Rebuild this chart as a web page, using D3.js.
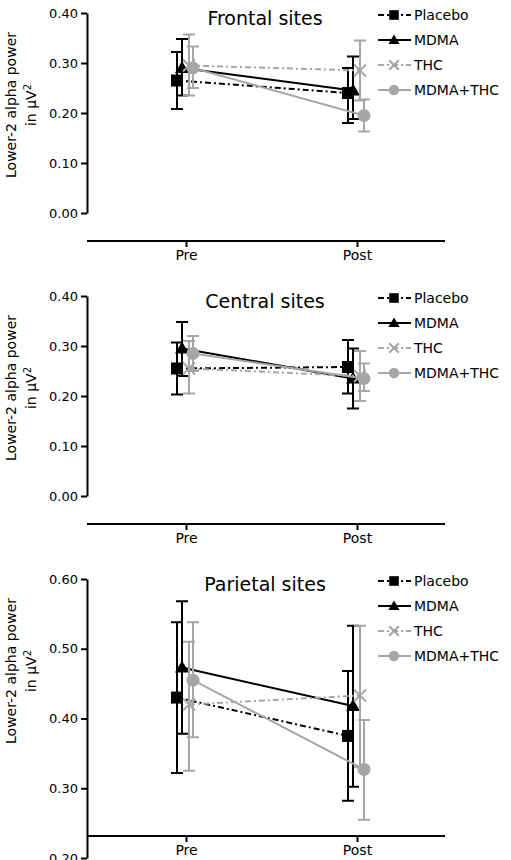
<!DOCTYPE html>
<html><head><meta charset="utf-8">
<script src="https://cdn.jsdelivr.net/npm/d3@7"></script>
<style>body{margin:0;background:#fff}text{font-family:Verdana,"DejaVu Sans",sans-serif}</style>
</head><body><svg id="chart" width="511" height="860"></svg>
<script>
const times = ['Pre', 'Post'];
const series = ['Placebo', 'MDMA', 'THC', 'MDMA+THC'];
const titles = ['Frontal sites', 'Central sites', 'Parietal sites'];
// [panel][series][time] mean, lower, upper
const means = [
  [[0.265, 0.240], [0.290, 0.245], [0.295, 0.285], [0.290, 0.195]],
  [[0.255, 0.258], [0.295, 0.235], [0.255, 0.240], [0.285, 0.235]],
  [[0.430, 0.375], [0.473, 0.418], [0.420, 0.433], [0.455, 0.327]]
];
const lows = [
  [[0.208, 0.180], [0.235, 0.188], [0.235, 0.225], [0.250, 0.163]],
  [[0.203, 0.205], [0.240, 0.175], [0.205, 0.190], [0.250, 0.210]],
  [[0.322, 0.282], [0.378, 0.302], [0.325, 0.330], [0.373, 0.255]]
];
const highs = [
  [[0.322, 0.290], [0.348, 0.313], [0.357, 0.345], [0.333, 0.227]],
  [[0.307, 0.312], [0.348, 0.295], [0.310, 0.290], [0.320, 0.265]],
  [[0.538, 0.468], [0.568, 0.533], [0.510, 0.533], [0.538, 0.398]]
];
const domains = [[0, 0.4], [0, 0.4], [0.2, 0.6]];
const yTicks = [[0, 0.1, 0.2, 0.3, 0.4], [0, 0.1, 0.2, 0.3, 0.4], [0.2, 0.3, 0.4, 0.5, 0.6]];

const colors = ['#000', '#000', '#a6a6a6', '#a6a6a6'];
const dashes = ['6,3,2,3', null, '6,3,2,3', null];
const offsets = [-9, -4, 3, 7];
const tops = [13, 296, 579];
const ph = [200, 200, 279];
const xAxisY = [241, 524, 836];

const svg = d3.select('#chart');
const x = d3.scalePoint().domain(times).range([186, 357]);

titles.forEach((title, p) => {
  const g = svg.append('g');
  const y = d3.scaleLinear().domain(domains[p]).range([tops[p] + ph[p], tops[p]]);

  g.append('g').attr('transform', 'translate(87,0)')
    .call(d3.axisLeft(y).tickValues(yTicks[p]).tickFormat(d3.format('.2f')).tickSize(6).tickSizeOuter(0))
    .call(a => a.selectAll('text').attr('font-size', 13).attr('fill', '#000'))
    .call(a => a.selectAll('line,path').attr('stroke-width', 2));
  const xa = g.append('g').attr('transform', `translate(0,${xAxisY[p]})`)
    .call(d3.axisBottom(x).tickSize(6).tickSizeOuter(0));
  xa.select('path').attr('d', `M87,0H445`).attr('stroke-width', 2);
  xa.selectAll('line').attr('stroke-width', 2);
  xa.selectAll('text').attr('font-size', 14).attr('fill', '#000');

  g.append('text').attr('x', 265).attr('y', tops[p] + 12).attr('text-anchor', 'middle')
    .attr('font-size', 19).text(title);
  const cy = tops[p] + 100 - 8;
  g.append('text').attr('transform', `translate(16,${cy}) rotate(-90)`).attr('text-anchor', 'middle')
    .attr('font-size', 14).text('Lower-2 alpha power');
  g.append('text').attr('transform', `translate(36,${cy}) rotate(-90)`).attr('text-anchor', 'middle')
    .attr('font-size', 14).html('in µV<tspan dy="-5" font-size="10">2</tspan>');

  series.forEach((s, i) => {
    const px = t => x(t) + offsets[i];
    const sg = g.append('g');
    sg.append('path').attr('fill', 'none').attr('stroke', colors[i]).attr('stroke-width', 2)
      .attr('stroke-dasharray', dashes[i])
      .attr('d', d3.line().x((d, k) => px(times[k])).y(d => y(d))(means[p][i]));
    times.forEach((t, k) => {
      const xx = px(t), lo = y(lows[p][i][k]), hi = y(highs[p][i][k]);
      sg.append('path').attr('stroke', colors[i]).attr('stroke-width', 2).attr('fill', 'none')
        .attr('d', `M${xx},${lo}V${hi}M${xx - 6},${lo}h12M${xx - 6},${hi}h12`);
      marker(sg, i, xx, y(means[p][i][k]), 1);
    });
    // legend
    const ly = tops[p] + 2 + i * 25;
    sg.append('path').attr('stroke', colors[i]).attr('stroke-width', 2).attr('stroke-dasharray', dashes[i])
      .attr('d', `M378,${ly}h33`);
    marker(sg, i, 394, ly, 0.8);
    sg.append('text').attr('x', 414).attr('y', ly + 5).attr('font-size', 14).text(s);
  });
});

function marker(g, i, cx, cy, k) {
  const c = colors[i];
  if (i === 0) g.append('rect').attr('x', cx - 6 * k).attr('y', cy - 6 * k).attr('width', 12 * k).attr('height', 12 * k).attr('fill', c);
  else if (i === 1) g.append('path').attr('fill', c).attr('d', `M${cx},${cy - 7 * k}L${cx + 7 * k},${cy + 5 * k}L${cx - 7 * k},${cy + 5 * k}Z`);
  else if (i === 2) g.append('path').attr('stroke', c).attr('stroke-width', 2).attr('d', `M${cx - 6 * k},${cy - 6 * k}l${12 * k},${12 * k}M${cx - 6 * k},${cy + 6 * k}l${12 * k},${-12 * k}`);
  else g.append('circle').attr('cx', cx).attr('cy', cy).attr('r', 6.5 * k).attr('fill', c);
}
</script></body></html>
